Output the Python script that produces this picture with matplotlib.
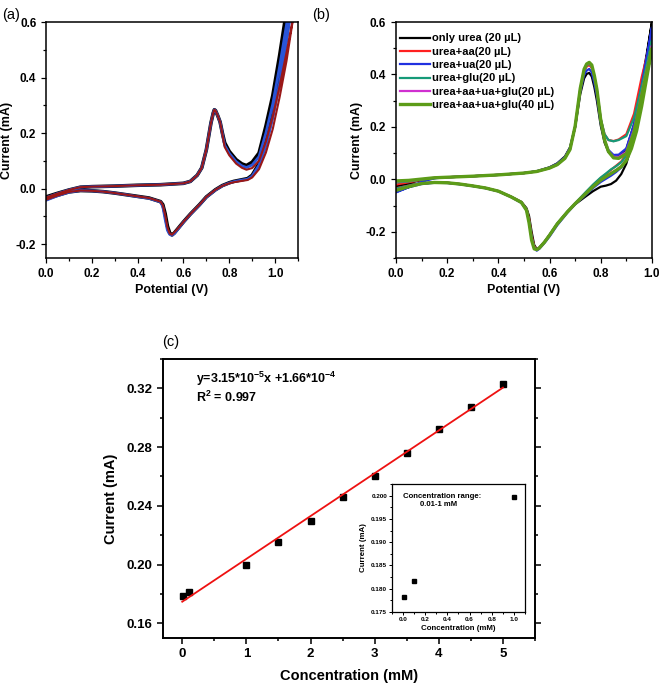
import matplotlib
matplotlib.use("Agg")
import matplotlib.pyplot as plt
from matplotlib.ticker import MultipleLocator

plt.rcParams["font.family"] = ["Liberation Sans", "DejaVu Sans"]
plt.rcParams["font.weight"] = "bold"
plt.rcParams["axes.labelweight"] = "bold"
plt.rcParams["axes.unicode_minus"] = False
plt.rcParams["mathtext.fontset"] = "custom"
plt.rcParams["mathtext.rm"] = "Liberation Sans:bold"
plt.rcParams["mathtext.bf"] = "Liberation Sans:bold"
plt.rcParams["mathtext.default"] = "rm"

# ---------- (a) CV curves ----------
a_fwd_v = [0.00, 0.05, 0.10, 0.15, 0.20, 0.30, 0.40, 0.50, 0.56, 0.60, 0.63, 0.66,
           0.68, 0.70, 0.71, 0.72, 0.73, 0.735, 0.74, 0.75, 0.76, 0.77, 0.78, 0.80,
           0.83, 0.855, 0.875, 0.90, 0.93, 0.96, 0.99, 1.02, 1.05, 1.08, 1.10]
a_rev_v = [1.10, 1.08, 1.05, 1.02, 0.99, 0.96, 0.93, 0.90, 0.88, 0.85, 0.82, 0.80,
           0.77, 0.74, 0.70, 0.67, 0.63, 0.60, 0.58, 0.56, 0.55, 0.54, 0.53, 0.52,
           0.51, 0.50, 0.45, 0.40, 0.35, 0.30, 0.25, 0.20, 0.15, 0.10, 0.05, 0.00]

a_black_fwd = [-0.030, -0.017, -0.005, 0.005, 0.007, 0.009, 0.012, 0.014, 0.017, 0.019,
               0.026, 0.048, 0.075, 0.140, 0.188, 0.236, 0.272, 0.284, 0.281, 0.262,
               0.240, 0.200, 0.165, 0.134, 0.104, 0.089, 0.083, 0.095, 0.128, 0.225,
               0.335, 0.480, 0.640, 0.800, 0.920]
a_blue_fwd = [-0.033, -0.018, -0.005, 0.005, 0.007, 0.009, 0.012, 0.014, 0.017, 0.019,
              0.026, 0.048, 0.075, 0.140, 0.188, 0.236, 0.272, 0.284, 0.281, 0.262,
              0.240, 0.198, 0.156, 0.127, 0.097, 0.082, 0.076, 0.085, 0.115, 0.200,
              0.305, 0.440, 0.590, 0.740, 0.860]
a_red_fwd = [-0.032, -0.018, -0.005, 0.005, 0.007, 0.009, 0.012, 0.014, 0.017, 0.019,
             0.026, 0.048, 0.075, 0.140, 0.188, 0.236, 0.272, 0.284, 0.281, 0.262,
             0.240, 0.196, 0.150, 0.120, 0.090, 0.075, 0.068, 0.074, 0.100, 0.170,
             0.260, 0.370, 0.490, 0.620, 0.720]
a_black_rev = [0.86, 0.72, 0.55, 0.40, 0.27, 0.165, 0.090, 0.048, 0.036, 0.031, 0.026,
               0.021, 0.011, -0.004, -0.030, -0.058, -0.092, -0.120, -0.140, -0.160,
               -0.167, -0.160, -0.135, -0.090, -0.058, -0.047, -0.034, -0.028, -0.022,
               -0.016, -0.011, -0.008, -0.007, -0.012, -0.024, -0.038]
a_blue_rev = [0.84, 0.70, 0.53, 0.38, 0.255, 0.155, 0.085, 0.045, 0.034, 0.030, 0.025,
              0.020, 0.010, -0.005, -0.031, -0.059, -0.093, -0.121, -0.142, -0.162,
              -0.168, -0.165, -0.150, -0.110, -0.065, -0.048, -0.035, -0.029, -0.022,
              -0.016, -0.011, -0.008, -0.007, -0.013, -0.026, -0.042]
a_red_rev = [0.76, 0.62, 0.46, 0.33, 0.215, 0.130, 0.070, 0.040, 0.031, 0.027, 0.023,
             0.019, 0.010, -0.004, -0.030, -0.058, -0.092, -0.120, -0.140, -0.158,
             -0.166, -0.162, -0.140, -0.095, -0.060, -0.047, -0.034, -0.028, -0.022,
             -0.016, -0.011, -0.008, -0.007, -0.012, -0.025, -0.040]

# ---------- (b) CV curves with interferents ----------
b_labels = ["only urea (20 µL)", "urea+aa(20 µL)", "urea+ua(20 µL)",
            "urea+glu(20 µL)", "urea+aa+ua+glu(20 µL)", "urea+aa+ua+glu(40 µL)"]
b_fwd_v = [0.00, 0.05, 0.10, 0.15, 0.20, 0.30, 0.40, 0.50, 0.55, 0.60, 0.63, 0.66,
           0.68, 0.70, 0.72, 0.735, 0.745, 0.755, 0.765, 0.775, 0.785, 0.80, 0.815,
           0.83, 0.85, 0.87, 0.90, 0.93, 0.96, 0.98, 1.00]
b_rev_v = [1.00, 0.98, 0.96, 0.94, 0.92, 0.90, 0.88, 0.86, 0.84, 0.82, 0.80, 0.77,
           0.74, 0.70, 0.67, 0.63, 0.60, 0.58, 0.56, 0.55, 0.54, 0.53, 0.52, 0.51,
           0.49, 0.45, 0.40, 0.35, 0.30, 0.25, 0.20, 0.15, 0.10, 0.05, 0.00]

b_fwd = [
    [-0.026, -0.014, -0.003, 0.005, 0.008, 0.012, 0.017, 0.024, 0.031, 0.046, 0.061,
     0.087, 0.122, 0.200, 0.325, 0.385, 0.402, 0.406, 0.392, 0.352, 0.300, 0.205,
     0.140, 0.105, 0.086, 0.088, 0.115, 0.210, 0.370, 0.480, 0.600],
    [-0.020, -0.011, -0.002, 0.005, 0.008, 0.012, 0.017, 0.024, 0.030, 0.043, 0.057,
     0.082, 0.116, 0.200, 0.342, 0.412, 0.430, 0.436, 0.425, 0.385, 0.335, 0.230,
     0.172, 0.150, 0.146, 0.152, 0.172, 0.250, 0.390, 0.470, 0.550],
    [-0.050, -0.030, -0.010, 0.004, 0.008, 0.012, 0.017, 0.024, 0.031, 0.045, 0.060,
     0.085, 0.120, 0.200, 0.335, 0.398, 0.415, 0.421, 0.408, 0.368, 0.318, 0.215,
     0.148, 0.112, 0.093, 0.094, 0.118, 0.210, 0.360, 0.470, 0.580],
    [-0.012, -0.008, -0.001, 0.005, 0.008, 0.012, 0.017, 0.024, 0.030, 0.043, 0.056,
     0.081, 0.115, 0.202, 0.345, 0.415, 0.435, 0.441, 0.430, 0.390, 0.340, 0.232,
     0.172, 0.150, 0.145, 0.150, 0.165, 0.235, 0.355, 0.440, 0.530],
    [-0.008, -0.006, 0.000, 0.006, 0.008, 0.012, 0.017, 0.024, 0.030, 0.043, 0.056,
     0.081, 0.115, 0.202, 0.345, 0.417, 0.437, 0.443, 0.432, 0.392, 0.340, 0.225,
     0.150, 0.108, 0.086, 0.085, 0.105, 0.190, 0.330, 0.420, 0.510],
    [-0.006, -0.004, 0.001, 0.006, 0.008, 0.012, 0.017, 0.024, 0.030, 0.043, 0.056,
     0.080, 0.114, 0.203, 0.347, 0.420, 0.440, 0.446, 0.436, 0.396, 0.343, 0.226,
     0.150, 0.106, 0.082, 0.080, 0.098, 0.180, 0.320, 0.410, 0.500],
]
b_rev = [
    [0.60, 0.47, 0.34, 0.22, 0.13, 0.06, 0.02, -0.005, -0.018, -0.024, -0.028, -0.045,
     -0.066, -0.095, -0.124, -0.170, -0.212, -0.238, -0.260, -0.266, -0.250, -0.200,
     -0.140, -0.110, -0.086, -0.066, -0.045, -0.033, -0.025, -0.018, -0.013, -0.012,
     -0.016, -0.022, -0.030],
    [0.55, 0.43, 0.32, 0.22, 0.145, 0.095, 0.068, 0.052, 0.036, 0.020, 0.005, -0.022,
     -0.052, -0.092, -0.123, -0.170, -0.213, -0.240, -0.262, -0.268, -0.255, -0.215,
     -0.150, -0.115, -0.088, -0.067, -0.045, -0.033, -0.025, -0.018, -0.013, -0.012,
     -0.016, -0.024, -0.034],
    [0.58, 0.45, 0.33, 0.22, 0.135, 0.075, 0.045, 0.028, 0.014, 0.002, -0.010, -0.033,
     -0.060, -0.095, -0.127, -0.175, -0.218, -0.243, -0.265, -0.272, -0.262, -0.225,
     -0.160, -0.118, -0.090, -0.068, -0.046, -0.034, -0.026, -0.019, -0.014, -0.013,
     -0.018, -0.030, -0.048],
    [0.53, 0.42, 0.31, 0.21, 0.14, 0.09, 0.065, 0.050, 0.038, 0.022, 0.007, -0.020,
     -0.050, -0.091, -0.122, -0.168, -0.212, -0.240, -0.262, -0.268, -0.258, -0.222,
     -0.158, -0.115, -0.088, -0.067, -0.045, -0.033, -0.025, -0.018, -0.013, -0.012,
     -0.016, -0.024, -0.035],
    [0.51, 0.40, 0.29, 0.19, 0.12, 0.075, 0.050, 0.035, 0.022, 0.010, -0.003, -0.028,
     -0.056, -0.093, -0.124, -0.170, -0.213, -0.240, -0.262, -0.268, -0.262, -0.228,
     -0.162, -0.116, -0.088, -0.067, -0.045, -0.033, -0.025, -0.018, -0.013, -0.012,
     -0.016, -0.026, -0.040],
    [0.50, 0.39, 0.28, 0.185, 0.118, 0.072, 0.048, 0.034, 0.022, 0.010, -0.003, -0.028,
     -0.056, -0.093, -0.124, -0.170, -0.213, -0.240, -0.262, -0.268, -0.265, -0.232,
     -0.166, -0.118, -0.088, -0.067, -0.045, -0.033, -0.025, -0.018, -0.013, -0.012,
     -0.016, -0.028, -0.042],
]
b_colors = ["#000000", "#ff2020", "#2030e0", "#159a78", "#d030d0", "#5c9c18"]
b_widths = [1.6, 1.6, 1.6, 1.6, 1.6, 2.4]

# ---------- (c) calibration ----------
conc = [0.01, 0.1, 1.0, 1.5, 2.0, 2.5, 3.0, 3.5, 4.0, 4.5, 5.0]
current = [0.1785, 0.1815, 0.1998, 0.2151, 0.2300, 0.2463, 0.2606, 0.2761, 0.2920,
           0.3073, 0.3232]
fit_x = [0.0, 5.0]
fit_y = [0.1747, 0.3205]
inset_conc = [0.01, 0.1, 1.0]
inset_current = [0.1783, 0.1816, 0.1998]


def style(ax, lw=1.1, size=8.5, length=3.5):
    for s in ax.spines.values():
        s.set_linewidth(lw)
    ax.tick_params(which="major", direction="out", length=length, width=lw * 0.8,
                   labelsize=size, top=False, right=False)
    ax.tick_params(which="minor", direction="out", length=length * 0.55,
                   width=lw * 0.8, top=False, right=False)
    for t in ax.get_xticklabels() + ax.get_yticklabels():
        t.set_fontweight("bold")


fig = plt.figure(figsize=(6.61, 6.86), dpi=100)

# panel (a)
ax1 = fig.add_axes([0.0696, 0.6239, 0.3812, 0.344])
for fwd, rev, col, lw in [(a_black_fwd, a_black_rev, "#000000", 2.6),
                          (a_blue_fwd, a_blue_rev, "#2a55d8", 2.0),
                          (a_red_fwd, a_red_rev, "#9a1818", 1.5)]:
    ax1.plot(a_fwd_v + a_rev_v, fwd + rev, color=col, lw=lw, solid_joinstyle="round")
ax1.set_xlim(0, 1.1)
ax1.set_ylim(-0.25, 0.6)
ax1.xaxis.set_major_locator(MultipleLocator(0.2))
ax1.xaxis.set_minor_locator(MultipleLocator(0.1))
ax1.yaxis.set_major_locator(MultipleLocator(0.2))
ax1.yaxis.set_minor_locator(MultipleLocator(0.1))
ax1.set_xlabel("Potential (V)", fontsize=9, labelpad=3)
ax1.set_ylabel("Current (mA)", fontsize=9, labelpad=2)
style(ax1)

# panel (b)
ax2 = fig.add_axes([0.599, 0.6239, 0.3873, 0.344])
for i in range(len(b_labels)):
    ax2.plot(b_fwd_v + b_rev_v, b_fwd[i] + b_rev[i], color=b_colors[i],
             lw=b_widths[i], label=b_labels[i], solid_joinstyle="round")
ax2.set_xlim(0, 1.0)
ax2.set_ylim(-0.3, 0.6)
ax2.xaxis.set_major_locator(MultipleLocator(0.2))
ax2.xaxis.set_minor_locator(MultipleLocator(0.1))
ax2.yaxis.set_major_locator(MultipleLocator(0.2))
ax2.yaxis.set_minor_locator(MultipleLocator(0.1))
ax2.set_xlabel("Potential (V)", fontsize=9, labelpad=3)
ax2.set_ylabel("Current (mA)", fontsize=9, labelpad=2)
style(ax2)
ax2.legend(loc="upper left", bbox_to_anchor=(-0.01, 0.98), frameon=False,
           prop={"weight": "bold", "size": 8}, handlelength=2.7,
           handletextpad=0.2, labelspacing=0.3, borderaxespad=0.2)

# panel (c)
ax3 = fig.add_axes([0.2466, 0.07, 0.5628, 0.4067])
ax3.plot(conc, current, "s", color="black", ms=4.8)
ax3.plot(fit_x, fit_y, color="#ee1111", lw=1.3)
ax3.set_xlim(-0.3, 5.5)
ax3.set_ylim(0.15, 0.34)
ax3.xaxis.set_major_locator(MultipleLocator(1))
ax3.xaxis.set_minor_locator(MultipleLocator(0.5))
ax3.yaxis.set_major_locator(MultipleLocator(0.04))
ax3.yaxis.set_minor_locator(MultipleLocator(0.02))
ax3.yaxis.set_major_formatter(plt.FormatStrFormatter("%.2f"))
ax3.set_xlabel("Concentration (mM)", fontsize=10.5, labelpad=6)
ax3.set_ylabel("Current (mA)", fontsize=10.5, labelpad=6)
style(ax3, lw=1.4, size=9.5, length=4)
ax3.tick_params(axis="y", which="both", right=True)
ax3.text(0.22, 0.3265, r"y=3.15*10$^{-5}$x +1.66*10$^{-4}$", fontsize=9,
         fontweight="bold", va="center")
ax3.text(0.22, 0.3135, r"R$^{2}$ = 0.997", fontsize=9, fontweight="bold",
         va="center")

# inset
ax4 = fig.add_axes([0.593, 0.1079, 0.2012, 0.1866])
ax4.plot(inset_conc, inset_current, "s", color="black", ms=3)
ax4.set_xlim(-0.1, 1.1)
ax4.set_ylim(0.175, 0.2025)
ax4.xaxis.set_major_locator(MultipleLocator(0.2))
ax4.xaxis.set_minor_locator(MultipleLocator(0.1))
ax4.yaxis.set_major_locator(MultipleLocator(0.005))
ax4.yaxis.set_minor_locator(MultipleLocator(0.0025))
ax4.yaxis.set_major_formatter(plt.FormatStrFormatter("%.3f"))
ax4.set_xlabel("Concentration (mM)", fontsize=5.7, labelpad=2)
ax4.set_ylabel("Current (mA)", fontsize=5.7, labelpad=3)
style(ax4, lw=0.9, size=4.6, length=2)
ax4.tick_params(which="both", pad=1.5)
ax4.text(0.08, 0.93, "Concentration range:\n        0.01-1 mM", transform=ax4.transAxes,
         fontsize=5.6, fontweight="bold", va="top", linespacing=1.3)

# panel letters
fig.text(0.003, 0.978, "(a)", fontsize=10.5, fontweight="normal", va="center")
fig.text(0.472, 0.978, "(b)", fontsize=10.5, fontweight="normal", va="center")
fig.text(0.245, 0.502, "(c)", fontsize=10.5, fontweight="normal", va="center")

fig.savefig("out.png", dpi=100, facecolor="white")
